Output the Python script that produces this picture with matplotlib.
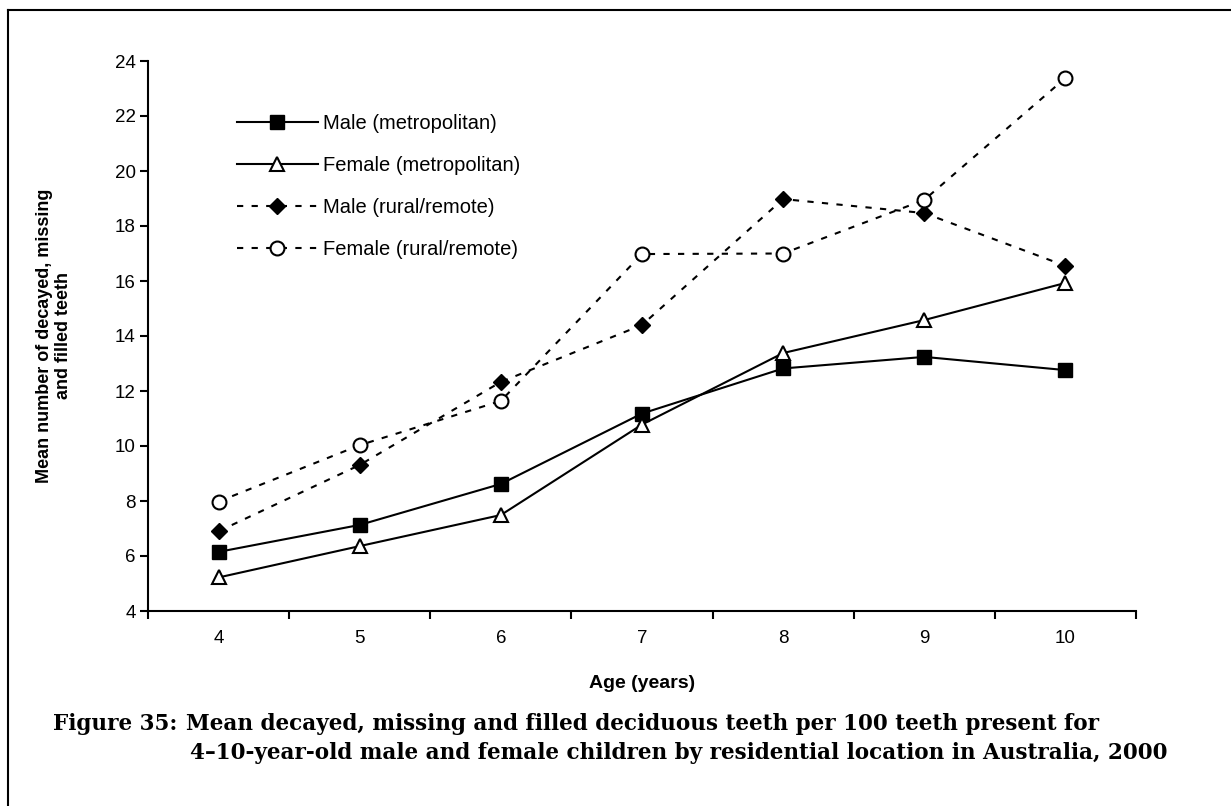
import matplotlib
matplotlib.use("Agg")
import matplotlib.pyplot as plt
from matplotlib.lines import Line2D

# Mean dmft per 100 teeth present, by age and residential location
ages = [4, 5, 6, 7, 8, 9, 10]
male_metro = [6.15, 7.13, 8.62, 11.18, 12.82, 13.24, 12.76]
female_metro = [5.22, 6.36, 7.49, 10.78, 13.38, 14.58, 15.93]
male_rural = [6.90, 9.31, 12.33, 14.40, 18.98, 18.47, 16.55]
female_rural = [7.98, 10.03, 11.64, 16.98, 17.00, 18.95, 23.38]

series_labels = ["Male (metropolitan)", "Female (metropolitan)",
                 "Male (rural/remote)", "Female (rural/remote)"]
y_ticks = [4, 6, 8, 10, 12, 14, 16, 18, 20, 22, 24]

plt.rcParams["font.family"] = ["Liberation Sans", "DejaVu Sans"]

W, H = 1231, 806
fig = plt.figure(figsize=(W / 100, H / 100), dpi=100)
ax = fig.add_axes([148 / W, 1 - 611 / H, (1136 - 148) / W, (611 - 61) / H])

dash = (0, (3, 4))
ax.plot(ages, male_metro, color="black", lw=1.5, marker="s", ms=10,
        mfc="black", mec="black", label=series_labels[0], zorder=3)
ax.plot(ages, female_metro, color="black", lw=1.5, marker="^", ms=10,
        mfc="white", mec="black", mew=1.5, label=series_labels[1], zorder=3)
ax.plot(ages, male_rural, color="black", lw=1.5, ls=dash, marker="D", ms=8.5,
        mfc="black", mec="black", label=series_labels[2], zorder=3)
ax.plot(ages, female_rural, color="black", lw=1.5, ls=dash, marker="o", ms=10,
        mfc="white", mec="black", mew=1.5, label=series_labels[3], zorder=3)

ax.set_xlim(3.5, 10.5)
ax.set_ylim(4, 24)
ax.set_yticks(y_ticks)
ax.set_yticklabels([str(v) for v in y_ticks], fontsize=13.5)

# category ticks sit between ages; labels at the ages themselves
ax.set_xticks([a - 0.5 for a in ages] + [ages[-1] + 0.5])
ax.set_xticklabels([])
ax.set_xticks(ages, minor=True)
ax.set_xticklabels([str(a) for a in ages], minor=True, fontsize=13.5)
ax.tick_params(axis="x", which="minor", length=0, pad=14)
ax.tick_params(axis="x", which="major", direction="out", length=6, width=1.5)
ax.tick_params(axis="y", direction="out", length=6, width=1.5, pad=3)

for side in ("top", "right"):
    ax.spines[side].set_visible(False)
for side in ("left", "bottom"):
    ax.spines[side].set_linewidth(1.5)

ax.set_xlabel("Age (years)", fontsize=14, fontweight="bold", labelpad=20)
fig.text(54 / W, 1 - 336 / H, "Mean number of decayed, missing\nand filled teeth",
         rotation=90, ha="center", va="center", fontsize=13, fontweight="bold",
         linespacing=1.15)

leg = ax.legend(loc="upper left",
                bbox_to_anchor=((237 - 148) / (1136 - 148), 1 - (114 - 61) / 550),
                frameon=False, fontsize=14.5, handlelength=4.0, handletextpad=0.25,
                labelspacing=1.14, borderpad=0, borderaxespad=0)

# page frame: top and left edges
fig.add_artist(Line2D([8 / W, 1.0], [1 - 10 / H, 1 - 10 / H], color="black", lw=1.5,
                      transform=fig.transFigure))
fig.add_artist(Line2D([8 / W, 8 / W], [0.0, 1 - 10 / H], color="black", lw=1.5,
                      transform=fig.transFigure))

cap_font = dict(family=["DejaVu Serif"], fontweight="bold",
                fontsize=15.5, va="center", ha="left")
fig.text(53 / W, 1 - 724 / H, "Figure 35:", **cap_font)
fig.text(186 / W, 1 - 724 / H,
         "Mean decayed, missing and filled deciduous teeth per 100 teeth present for",
         **cap_font)
fig.text(190 / W, 1 - 753 / H,
         "4\u201310-year-old male and female children by residential location in Australia, 2000",
         **cap_font)

fig.savefig("out.png", dpi=100)
